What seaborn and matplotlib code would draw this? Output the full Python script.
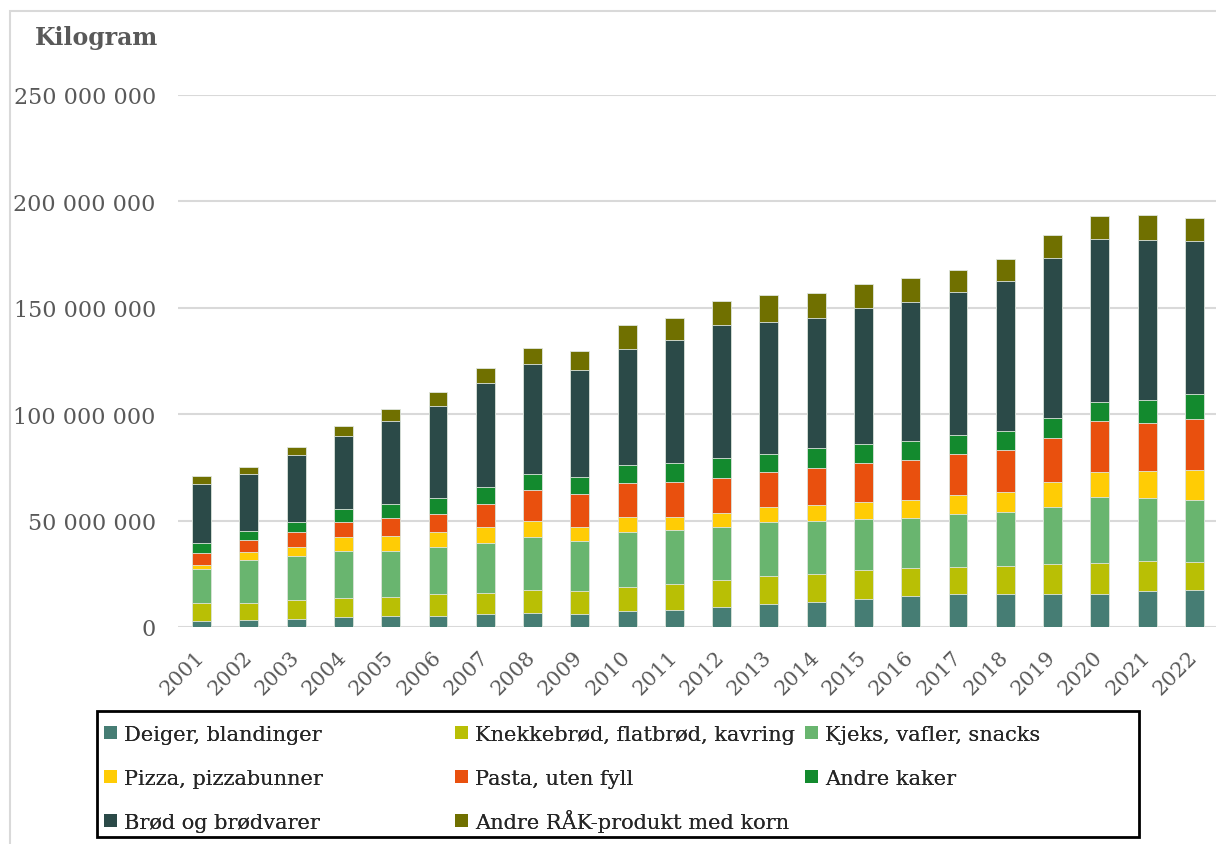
import numpy as np
import pandas as pd
import matplotlib
matplotlib.use('Agg')
import matplotlib.pyplot as plt
from matplotlib.patches import Patch, Rectangle
import seaborn as sns

# Data (million kg)
years = [str(y) for y in range(2001, 2023)]
deiger = [2.7, 3.2, 3.8, 4.8, 5.1, 5.4, 6.0, 6.7, 6.0, 7.4, 7.9, 9.6, 10.9, 11.8, 13.3, 14.5, 15.4, 15.7, 15.7, 15.7, 17.0, 17.3]
knekkebrod = [8.7, 8.0, 8.7, 8.9, 9.2, 9.9, 10.2, 10.8, 10.7, 11.6, 12.1, 12.3, 13.0, 13.2, 13.3, 13.3, 13.0, 13.1, 13.7, 14.6, 14.1, 13.3]
kjeks = [15.8, 20.5, 20.8, 22.1, 21.6, 22.2, 23.5, 24.7, 23.8, 25.7, 25.5, 25.0, 25.4, 24.9, 24.2, 23.5, 24.5, 25.2, 27.1, 30.6, 29.4, 29.0]
pizza = [2.0, 3.5, 4.5, 6.3, 6.8, 7.2, 7.4, 7.4, 6.7, 7.2, 6.4, 6.8, 6.9, 7.5, 7.8, 8.3, 8.9, 9.5, 11.7, 12.0, 12.9, 14.1]
pasta = [5.8, 5.8, 6.8, 7.3, 8.3, 8.5, 10.8, 14.7, 15.2, 15.7, 16.1, 16.4, 16.5, 17.4, 18.6, 19.0, 19.4, 19.8, 20.5, 23.7, 22.6, 24.1]
andre_kaker = [4.6, 4.3, 4.8, 6.1, 6.6, 7.2, 8.0, 7.8, 7.9, 8.6, 9.3, 9.4, 8.8, 9.1, 8.9, 8.6, 8.9, 9.0, 9.4, 9.2, 10.6, 11.5]
brod = [27.7, 26.5, 31.5, 34.3, 39.1, 43.5, 48.9, 51.6, 50.4, 54.5, 57.7, 62.2, 61.9, 61.4, 63.9, 65.6, 67.2, 70.2, 75.2, 76.3, 75.2, 72.0]
andre_rak = [3.6, 3.5, 3.8, 4.7, 5.7, 6.6, 7.1, 7.6, 9.1, 11.0, 10.3, 11.4, 12.4, 11.7, 11.4, 11.1, 10.4, 10.3, 10.8, 11.1, 11.9, 11.1]

labels = ['Deiger, blandinger', 'Knekkebrød, flatbrød, kavring', 'Kjeks, vafler, snacks',
          'Pizza, pizzabunner', 'Pasta, uten fyll', 'Andre kaker',
          'Brød og brødvarer', 'Andre RÅK-produkt med korn']
colors = ['#467d74', '#b9bf05', '#69b56f', '#ffcc05', '#e9500e', '#138a2e', '#2b4a48', '#707000']

df = pd.DataFrame(np.array([deiger, knekkebrod, kjeks, pizza, pasta, andre_kaker, brod, andre_rak]).T * 1e6,
                  columns=labels, index=years)
cum = df.cumsum(axis=1)

sns.set_style('white')
plt.rcParams['font.family'] = ['DejaVu Serif']

W, H = 1216, 845
fig = plt.figure(figsize=(W / 100, H / 100), dpi=100)
ax = fig.add_axes([178 / W, 1 - 628 / H, 1040 / W, 532 / H])

# stacked bars: draw cumulative totals from top layer down
for name, col in reversed(list(zip(labels, colors))):
    sns.barplot(x=years, y=cum[name].values, color=col, width=0.4, saturation=1,
                edgecolor='#dfe6df', linewidth=0.6, ax=ax)

ax.set_ylim(0, 250e6)
ax.set_xlim(-0.5, len(years) - 0.5)
ax.set_yticks(np.arange(0, 250e6 + 1, 50e6))
ax.set_yticklabels([f'{v:,.0f}'.replace(',', ' ') for v in np.arange(0, 250e6 + 1, 50e6)])
ax.yaxis.grid(True, color='#d9d9d9', linewidth=1.5)
ax.set_axisbelow(True)
for s in ax.spines.values():
    s.set_visible(False)
ax.set_xlabel('')
ax.set_ylabel('')
ax.tick_params(axis='y', length=0, pad=16, labelsize=16, labelcolor='#595959')
ax.tick_params(axis='x', length=0, pad=19, labelsize=15, labelcolor='#595959')
for t in ax.get_xticklabels():
    t.set_rotation(45)
    t.set_ha('right')
    t.set_va('center')
    t.set_rotation_mode('anchor')

fig.text(35 / W, 1 - 38 / H, 'Kilogram', fontsize=17, fontweight='bold', color='#595959', va='center', ha='left')

# outer light frame
fig.patches.append(Rectangle((10 / W, -0.1), 1.2, 1 - 12 / H + 0.1, transform=fig.transFigure,
                             fill=False, edgecolor='#d9d9d9', linewidth=1.5))

# legend box with three columns (the Å entry gets its own block so its row lines up)
fig.patches.append(Rectangle((97 / W, 1 - 838 / H), 1042 / W, 126 / H, transform=fig.transFigure,
                             fill=False, edgecolor='black', linewidth=2))
handles = [Patch(facecolor=c, edgecolor='none', label=l) for l, c in zip(labels, colors)]
blocks = [(104, 726, [0, 3, 6]), (455, 726, [1, 4]), (455, 810, [7]), (805, 726, [2, 5])]
for col_x, top_y, idx in blocks:
    leg = fig.legend(handles=[handles[i] for i in idx], loc='upper left',
                     bbox_to_anchor=(col_x / W, 1 - top_y / H), frameon=False, fontsize=15,
                     borderpad=0, borderaxespad=0, handlelength=0.6, handleheight=0.6,
                     handletextpad=0.35, labelspacing=1.2)
    fig.add_artist(leg)

fig.savefig('out.png', dpi=100)
